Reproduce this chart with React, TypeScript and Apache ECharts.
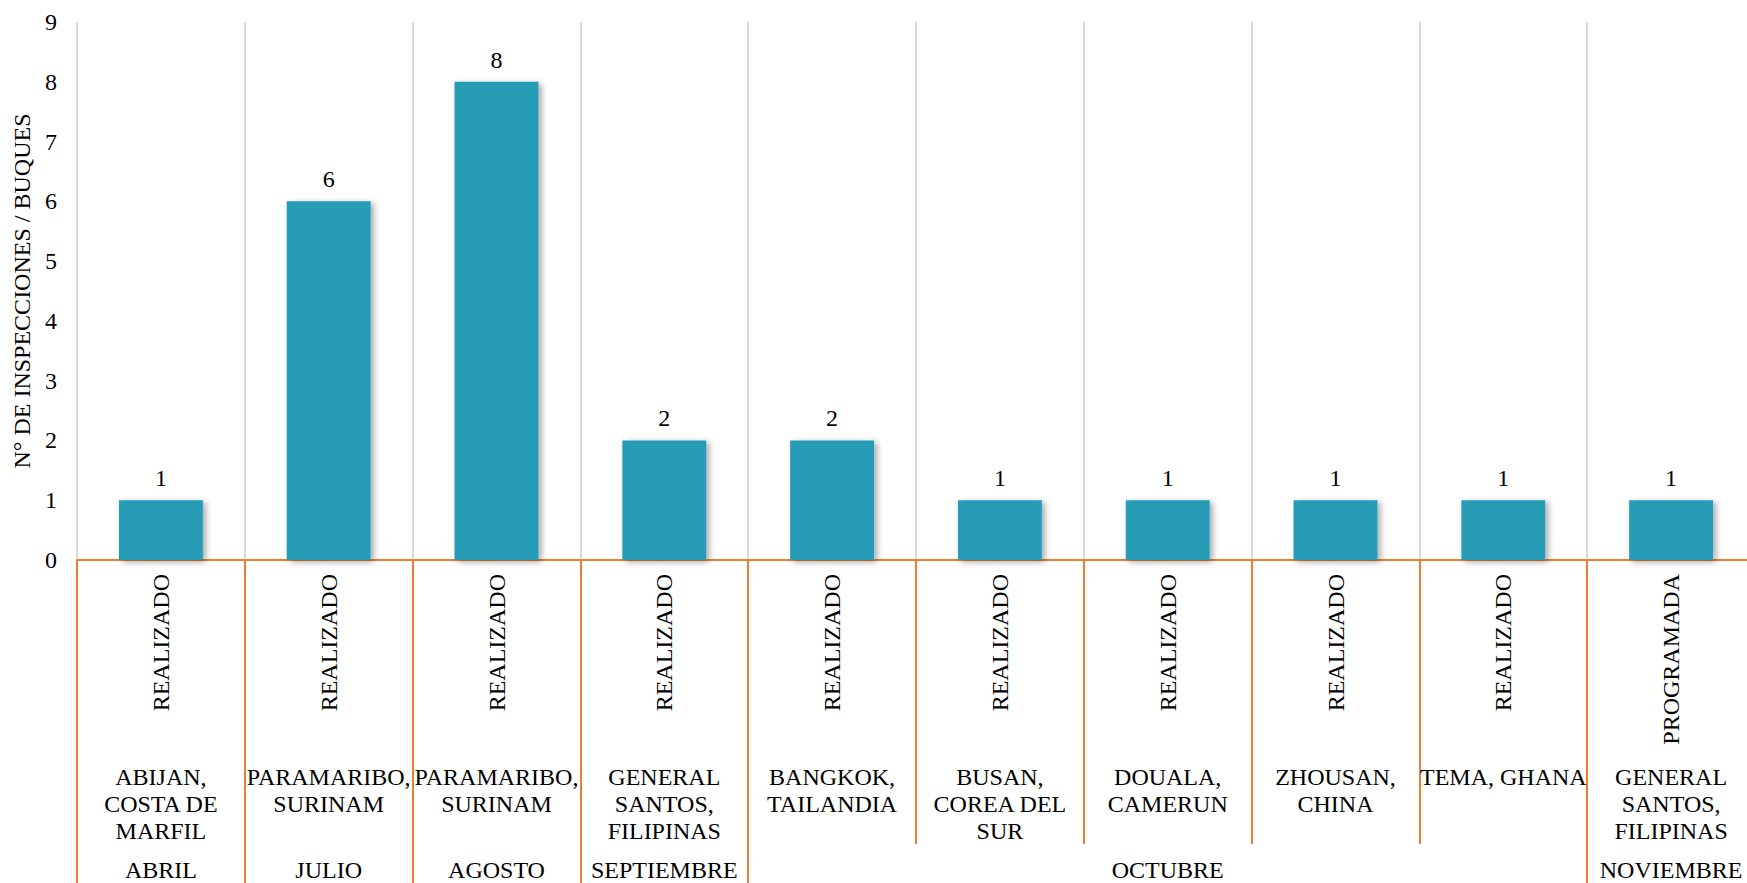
import React, { useEffect, useRef } from "react";
import * as echarts from "echarts";

const statuses = ["REALIZADO", "REALIZADO", "REALIZADO", "REALIZADO", "REALIZADO", "REALIZADO", "REALIZADO", "REALIZADO", "REALIZADO", "PROGRAMADA"];
const locations = [
  "ABIJAN,\nCOSTA DE\nMARFIL",
  "PARAMARIBO,\nSURINAM",
  "PARAMARIBO,\nSURINAM",
  "GENERAL\nSANTOS,\nFILIPINAS",
  "BANGKOK,\nTAILANDIA",
  "BUSAN,\nCOREA DEL\nSUR",
  "DOUALA,\nCAMERUN",
  "ZHOUSAN,\nCHINA",
  "TEMA, GHANA",
  "GENERAL\nSANTOS,\nFILIPINAS",
];
const months = ["ABRIL", "JULIO", "AGOSTO", "SEPTIEMBRE", "", "", "OCTUBRE", "", "", "NOVIEMBRE"];
const monthStarts = [0, 1, 2, 3, 4, 9];
const values = [1, 6, 8, 2, 2, 1, 1, 1, 1, 1];
const yTicks = [0, 1, 2, 3, 4, 5, 6, 7, 8, 9];

const FONT = "'Liberation Serif', 'Times New Roman', serif";
const ORANGE = "#ED7D31";
const BAR = "#279CB7";

export default function App() {
  const ref = useRef<HTMLDivElement>(null);
  useEffect(() => {
    document.body.style.margin = "0";
    document.body.style.overflow = "hidden";
    if (!ref.current) return;
    const chart = echarts.init(ref.current, undefined, { renderer: "svg" });
    const baseAxis = {
      type: "category",
      gridIndex: 0,
      position: "bottom",
      offset: 0,
      boundaryGap: true,
      axisLine: { show: false },
      splitLine: { show: false },
    };
    chart.setOption({
      animation: false,
      backgroundColor: "#fff",
      grid: { left: 77, right: 0, top: 22, bottom: 323, containLabel: false, outerBoundsMode: "none" },
      xAxis: [
        {
          ...baseAxis,
          data: statuses,
          axisLine: { show: true, lineStyle: { color: ORANGE, width: 2 } },
          axisTick: { show: true, length: 284, lineStyle: { color: ORANGE, width: 2 } },
          splitLine: { show: true, lineStyle: { color: "#D9D9D9", width: 2 } },
          axisLabel: {
            interval: 0,
            rotate: 90,
            margin: 14,
            color: "#000",
            fontFamily: FONT,
            fontSize: 24,
          },
        },
        {
          ...baseAxis,
          data: locations,
          axisTick: { show: false },
          axisLabel: {
            interval: 0,
            margin: 203,
            color: "#000",
            fontFamily: FONT,
            fontSize: 24,
            lineHeight: 27,
            align: "center",
          },
        },
        {
          ...baseAxis,
          data: months,
          axisTick: {
            show: true,
            length: 340,
            interval: (index: number) => monthStarts.includes(index),
            lineStyle: { color: ORANGE, width: 2 },
          },
          axisLabel: {
            interval: 0,
            margin: 299,
            color: "#000",
            fontFamily: FONT,
            fontSize: 24,
            lineHeight: 22,
          },
        },
      ],
      yAxis: {
        type: "value",
        min: yTicks[0],
        max: yTicks[yTicks.length - 1],
        interval: 1,
        name: "N° DE INSPECCIONES / BUQUES",
        nameLocation: "middle",
        nameGap: 41,
        nameTextStyle: { color: "#000", fontFamily: FONT, fontSize: 24 },
        axisLine: { show: false },
        axisTick: { show: false },
        splitLine: { show: false },
        axisLabel: { color: "#000", fontFamily: FONT, fontSize: 24, margin: 20 },
      },
      series: [
        {
          type: "bar",
          xAxisIndex: 0,
          data: values,
          barWidth: "50%",
          itemStyle: {
            color: BAR,
            shadowColor: "rgba(0,0,0,0.35)",
            shadowBlur: 6,
            shadowOffsetX: 3,
            shadowOffsetY: 2,
          },
          label: {
            show: true,
            position: "top",
            distance: 10,
            color: "#000",
            fontFamily: FONT,
            fontSize: 24,
          },
        },
      ],
    });
    return () => chart.dispose();
  }, []);
  return (
    <div style={{ width: 1747, height: 883, overflow: "hidden", position: "relative" }}>
      <div ref={ref} style={{ width: 1755, height: 883 }} />
    </div>
  );
}
